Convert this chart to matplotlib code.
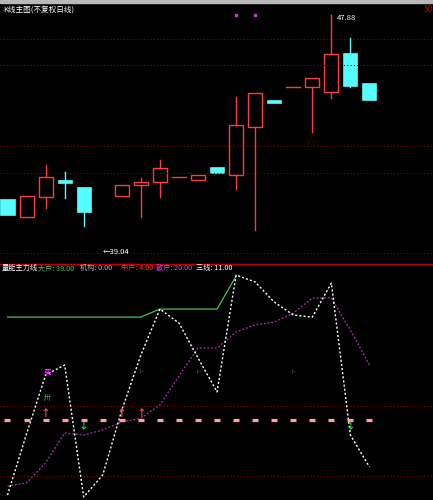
import numpy as np
import matplotlib.pyplot as plt
from matplotlib.patches import Rectangle
from matplotlib.lines import Line2D

plt.rcParams['font.family'] = ['Noto Sans CJK SC', 'DejaVu Sans']

# --- price panel data ---
opens  = [41.01, 40.34, 41.09, 41.72, 41.46, np.nan, 41.13, 41.54, 41.65, 41.83,
          41.72, 42.21, 41.91, 43.70, 44.71, 45.18, 45.19, 45.01, 46.46, 45.34]
highs  = [41.01, 41.13, 42.28, 42.02, 41.46, np.nan, 41.54, 41.80, 42.47, 41.85,
          41.91, 42.21, 44.82, 44.97, 44.71, 45.20, 45.53, 47.88, 47.02, 45.34]
lows   = [40.42, 40.34, 40.68, 41.05, 40.01, np.nan, 41.13, 40.34, 41.09, 41.83,
          41.72, 41.98, 41.39, 39.86, 44.60, 45.18, 43.51, 44.78, 45.19, 44.71]
closes = [40.42, 41.13, 41.83, 41.61, 40.53, np.nan, 41.54, 41.65, 42.17, 41.85,
          41.91, 41.98, 43.78, 44.97, 44.60, 45.20, 45.53, 46.42, 45.23, 44.71]
price_grid = [47.0, 46.0, 43.0, 42.0, 39.0]
high_label = (17, 47.88)
low_label = (5, 39.04)

# --- indicator panel data ---
white_line = [2.1, 28.0, 53.0, 57.2, 1.3, 10.6, 38.1, 61.4, 80.9, 75.0,
              60.2, 45.8, 95.3, 92.4, 83.9, 78.4, 77.5, 91.9, 27.5, 14.0]
magenta_line = [5.9, 7.2, 15.7, 28.4, 27.5, 29.7, 33.1, 34.7, 40.3, 52.5,
                64.4, 64.4, 71.2, 74.2, 75.4, 79.2, 85.6, 85.6, 72.0, 57.2]
green_line = [77.5, 77.5, 77.5, 77.5, 77.5, 77.5, 77.5, 77.5, 80.9, 80.9,
              80.9, 80.9, 94.9] + [np.nan] * 7
pink_level = 33.9
ind_grid = [10, 40]
up_arrows = [2, 6, 7]
down_arrows = [4, 18]

legend_items = [("量能主力线", "white"), ("大户: 39.00", "#4cbf4c"),
                ("机构: 0.00", "#b0b0b0"), ("中户: 4.00", "#ff3030"),
                ("散户: 20.00", "#e040e0"), ("三线: 11.00", "white")]
legend_x = [2, 38, 80, 121, 156, 196]

RED = "#ff3c3c"
CYAN = "#54fcfc"
W, H = 433, 500

fig = plt.figure(figsize=(4.33, 5.0), dpi=100, facecolor="black")
ax = fig.add_axes([0, (H - 263) / H, 1, 260 / H], facecolor="black")
ax2 = fig.add_axes([0, 0, 1, 236 / H], facecolor="black")

xs = np.arange(len(opens))
xlim = (-7.5 / 19.05, (W - 7.5) / 19.05)
hw = 0.37

for y in price_grid:
    ax.axhline(y, color="#8b0000", lw=0.8, ls=(0, (1, 2)))

for i in xs:
    o, h, l, c = opens[i], highs[i], lows[i], closes[i]
    if np.isnan(o):
        continue
    col = RED if c >= o else CYAN
    top, bot = max(o, c), min(o, c)
    if h > top:
        ax.plot([i, i], [top, h], color=col, lw=1)
    if l < bot:
        ax.plot([i, i], [l, bot], color=col, lw=1)
    if top - bot < 0.06:
        ax.plot([i - hw, i + hw], [c, c], color=col, lw=1)
    elif c >= o:
        ax.add_patch(Rectangle((i - hw, bot), 2 * hw, top - bot, fc="black", ec=col, lw=1))
    else:
        ax.add_patch(Rectangle((i - hw, bot), 2 * hw, top - bot, fc=col, ec=col, lw=0.5))

ax.annotate("47.88", xy=high_label, xytext=(high_label[0] + 0.3, high_label[1] - 0.12),
            color="white", fontsize=5.5, va="center")
ax.text(low_label[0], low_label[1], "←39.04", color="white", fontsize=5.5, va="center")
ax.scatter([12, 13], [47.9, 47.9], s=3, color="#c040c0", marker="s")
ax.set_xlim(*xlim)
ax.set_ylim(38.63, 48.33)
ax.axis("off")

# --- indicator panel ---
for y in ind_grid:
    ax2.axhline(y, color="#8b0000", lw=0.8, ls=(0, (1, 2)))
ax2.plot(xs, green_line, color="#4cbf4c", lw=0.9)
ax2.plot(xs, magenta_line, color="#b030b0", lw=0.9, ls=(0, (1.5, 1.5)))
ax2.plot(xs, white_line, color="white", lw=1, ls=(0, (1.5, 1.5)))
ax2.plot(xs, [pink_level] * len(xs), ls="none", marker="_", ms=4, mew=2.3, color="#ffa0a0")
ax2.text(2.1, 54.2, "买", color="#ff30ff", fontsize=5.5, ha="center", va="center", fontweight="bold")
ax2.text(2.1, 43.2, "卅", color="#40a040", fontsize=5, ha="center", va="center")
for i in up_arrows:
    ax2.text(i, 36.9, "↑", color="#ff5050", fontsize=7, ha="center", va="center", fontweight="bold")
for i in down_arrows:
    ax2.text(i, 31.8, "↓", color="#30e030", fontsize=7, ha="center", va="center", fontweight="bold")
for i in [7, 10, 15]:
    ax2.text(i, 54.2, "卜", color="#8040a0", fontsize=4.5, ha="center", va="center")
ax2.set_xlim(*xlim)
ax2.set_ylim(0, 100)
ax2.axis("off")

# frame pieces
fig.add_artist(Rectangle((0, (H - 3) / H), 1, 3 / H, transform=fig.transFigure, color="#b8b8b8"))
fig.add_artist(Line2D([0, 1], [(H - 264) / H] * 2, transform=fig.transFigure, color="#c00000", lw=1))
fig.text(3 / W, 1 - 10 / H, "K线主图(不复权日线)", color="white", fontsize=5.5, va="center")
fig.text(424 / W, 1 - 9 / H, "50", color="#c00000", fontsize=6, va="center")
for (label, col), x in zip(legend_items, legend_x):
    fig.text(x / W, 1 - 268 / H, label, color=col, fontsize=5.2, va="center")

fig.savefig("out.png", dpi=100, facecolor="black")
